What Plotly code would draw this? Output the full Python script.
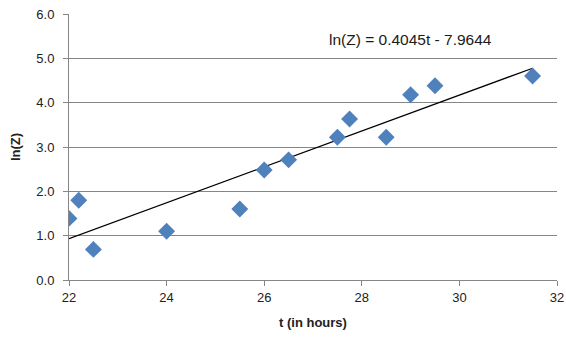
import plotly.graph_objects as go

t_vals = [22.0, 22.2, 22.5, 24.0, 25.5, 26.0, 26.5, 27.5, 27.75, 28.5, 29.0, 29.5, 31.5]
lnz_vals = [1.39, 1.80, 0.69, 1.10, 1.60, 2.48, 2.71, 3.22, 3.63, 3.22, 4.18, 4.38, 4.60]
slope = 0.4045
intercept = -7.9644
trend_t = [min(t_vals), max(t_vals)]
trend_y = [slope * x + intercept for x in trend_t]
eq_text = "ln(Z) = 0.4045t - 7.9644"

fig = go.Figure()
fig.add_trace(go.Scatter(x=trend_t, y=trend_y, mode="lines",
                         line=dict(color="black", width=1.2), showlegend=False, hoverinfo="skip"))
fig.add_trace(go.Scatter(x=t_vals, y=lnz_vals, mode="markers",
                         marker=dict(symbol="diamond", size=13, color="#4F81BD",
                                     line=dict(width=0)), showlegend=False))
fig.add_annotation(x=29.0, y=5.42, text=eq_text, showarrow=False,
                   font=dict(family="Liberation Sans", size=15.5, color="#1a1a1a"))

axis_font = dict(family="Liberation Sans", size=13, color="#222222")
fig.update_layout(
    width=566, height=337,
    margin=dict(l=69, r=9, t=14, b=57),
    paper_bgcolor="white", plot_bgcolor="white",
    xaxis=dict(range=[22, 32], tickvals=[22, 24, 26, 28, 30, 32],
               showgrid=False, showline=True, linecolor="#868686", linewidth=1,
               ticks="outside", ticklen=5, tickcolor="#868686",
               tickfont=axis_font, zeroline=False, automargin=False,
               ticklabeloverflow="allow",
               title=dict(text="<b>t (in hours)</b>", font=dict(family="Liberation Sans", size=13, color="#222222"), standoff=14)),
    yaxis=dict(range=[0, 6], tickvals=[0, 1, 2, 3, 4, 5, 6],
               ticktext=["0.0", "1.0", "2.0", "3.0", "4.0", "5.0", "6.0"],
               showgrid=True, gridcolor="#868686", gridwidth=1,
               showline=True, linecolor="#868686", linewidth=1,
               ticks="outside", ticklen=5, tickcolor="#868686",
               tickfont=axis_font, zeroline=False, automargin=False,
               ticklabeloverflow="allow", ticklabelstandoff=6,
               title=dict(text="<b>ln(Z)</b>", font=dict(family="Liberation Sans", size=13, color="#222222"), standoff=12)),
)
fig.write_html("out.html", config={"displayModeBar": False},
               post_script="document.body.style.margin='0';document.body.style.overflow='hidden';")
